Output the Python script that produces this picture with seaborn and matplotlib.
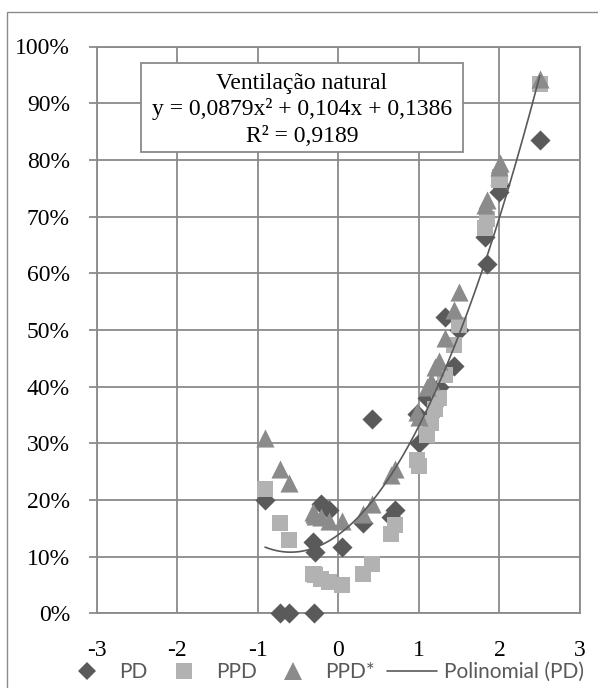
import numpy as np
import pandas as pd
import matplotlib
matplotlib.use("Agg")
import matplotlib.pyplot as plt
import seaborn as sns
from matplotlib.lines import Line2D
from matplotlib.patches import Rectangle

# ---- data ----
pmv = [-0.91, -0.73, -0.61, -0.30, -0.31, -0.29, -0.22, -0.11, 0.05, 0.30, 0.42, 0.65, 0.70,
       1.00, 0.98, 1.10, 1.15, 1.20, 1.25, 1.32, 1.43, 1.50, 1.82, 1.84, 2.00, 2.01, 2.50]
pd_vals = [20.0, 0.0, 0.0, 0.0, 12.5, 10.8, 19.2, 18.2, 11.7, 15.9, 34.2, 17.0, 18.3,
           30.0, 35.2, 38.0, 35.0, 37.0, 40.0, 52.3, 43.6, 50.0, 66.4, 61.7, 74.4, 75.5, 83.5]
ppd_vals = [22.0, 16.0, 13.0, 7.0, 7.0, 6.8, 6.0, 5.5, 5.0, 7.0, 8.7, 14.0, 15.5,
            26.0, 27.0, 31.5, 33.5, 36.0, 38.0, 42.0, 47.3, 50.8, 68.0, 69.5, 76.4, 77.0, 93.4]
ppd_star_vals = [31.0, 25.5, 23.0, 17.5, 17.8, 17.2, 17.0, 16.2, 16.2, 17.6, 19.2, 24.4, 25.5,
                 34.7, 35.5, 40.0, 41.0, 43.5, 44.5, 48.5, 53.5, 56.7, 72.0, 73.0, 78.8, 79.5, 94.3]
trend_coef = [0.0879, 0.104, 0.1386]
x_ticks = [-3, -2, -1, 0, 1, 2, 3]
y_ticks = [0, 10, 20, 30, 40, 50, 60, 70, 80, 90, 100]
legend_labels = ["PD", "PPD", "PPD*", "Polinomial (PD)"]
annotation_lines = ["Ventilação natural", "y = 0,0879x² + 0,104x + 0,1386", "R² = 0,9189"]

# ---- style ----
sns.set_theme(style="white")
plt.rcParams['font.family'] = ['Liberation Serif', 'DejaVu Serif']
plt.rcParams['axes.unicode_minus'] = False

W, H = 598, 688
fig = plt.figure(figsize=(W / 100, H / 100), dpi=100)
fig.patch.set_facecolor("white")

ax_l, ax_r, ax_t, ax_b = 96.7, 580.0, 46.5, 613.3
ax = fig.add_axes([ax_l / W, 1 - ax_b / H, (ax_r - ax_l) / W, (ax_b - ax_t) / H])

grid_c = "#8a8a8a"
c_pd, c_ppd, c_star, c_line = "#5a5a5a", "#b2b2b2", "#8b8b8b", "#595959"

df = pd.DataFrame({"PMV": pmv, "PD": pd_vals, "PPD": ppd_vals, "PPD*": ppd_star_vals})

sns.scatterplot(data=df, x="PMV", y="PD", marker="D", s=105, color=c_pd,
                linewidth=0, ax=ax, zorder=3, clip_on=False)
sns.scatterplot(data=df, x="PMV", y="PPD", marker="s", s=140, color=c_ppd,
                linewidth=0, ax=ax, zorder=4, clip_on=False)
sns.scatterplot(data=df, x="PMV", y="PPD*", marker="^", s=170, color=c_star,
                linewidth=0, ax=ax, zorder=5, clip_on=False)

xg = np.linspace(min(pmv), max(pmv), 300)
trend = pd.DataFrame({"x": xg, "y": np.polyval(trend_coef, xg) * 100})
sns.lineplot(data=trend, x="x", y="y", color=c_line, lw=1.2, ax=ax, zorder=6)

ax.set_xlim(-3, 3)
ax.set_ylim(0, 100)
ax.set_xticks(x_ticks)
ax.set_xticklabels([str(v) for v in x_ticks])
ax.set_yticks(y_ticks)
ax.set_yticklabels([f"{v}%" for v in y_ticks])
ax.set_xlabel("")
ax.set_ylabel("")
ax.grid(True, color=grid_c, lw=1.3)
ax.set_axisbelow(True)
for s in ax.spines.values():
    s.set_color(grid_c)
    s.set_linewidth(1.3)
ax.tick_params(axis="x", length=0, pad=19.5, labelsize=17, labelcolor="black")
ax.tick_params(axis="y", length=5.8, width=1.3, color=grid_c, direction="out",
               pad=13.5, labelsize=17, labelcolor="black", left=True)

# annotation box
bx0, by0, bx1, by1 = 140.5, 63.0, 463.0, 152.0
fig.add_artist(Rectangle((bx0 / W, 1 - by1 / H), (bx1 - bx0) / W, (by1 - by0) / H,
                         transform=fig.transFigure, facecolor="white",
                         edgecolor=grid_c, lw=1.3, zorder=1))
for txt, base in zip(annotation_lines, [89.5, 115.5, 141.5]):
    fig.text((bx0 + bx1) / 2 / W, 1 - base / H, txt, ha="center", va="baseline",
             fontsize=17, color="black", zorder=3)

# outer chart frame (only left/top visible)
fig.add_artist(Rectangle((7 / W, -0.2), 1.2, 1.2 - 12 / H, transform=fig.transFigure,
                         fill=False, edgecolor=grid_c, lw=1.0, zorder=0.5))

# legend
handles = [
    Line2D([], [], marker="D", ls="none", color=c_pd, markersize=9, markeredgewidth=0),
    Line2D([], [], marker="s", ls="none", color=c_ppd, markersize=11.5, markeredgewidth=0),
    Line2D([], [], marker="^", ls="none", color=c_star, markersize=12.5, markeredgewidth=0),
    Line2D([], [], color=c_line, lw=1.2),
]
leg = fig.legend(handles, legend_labels, loc="center", bbox_to_anchor=(323 / W, 1 - 672 / H),
                 ncol=4, frameon=False, handlelength=2.4, handletextpad=0.34,
                 columnspacing=0.55, borderpad=0, borderaxespad=0,
                 prop={"family": ["Lato", "DejaVu Sans"], "size": 15})
for t in leg.get_texts():
    t.set_color("#595959")

fig.savefig("out.png", dpi=100)
